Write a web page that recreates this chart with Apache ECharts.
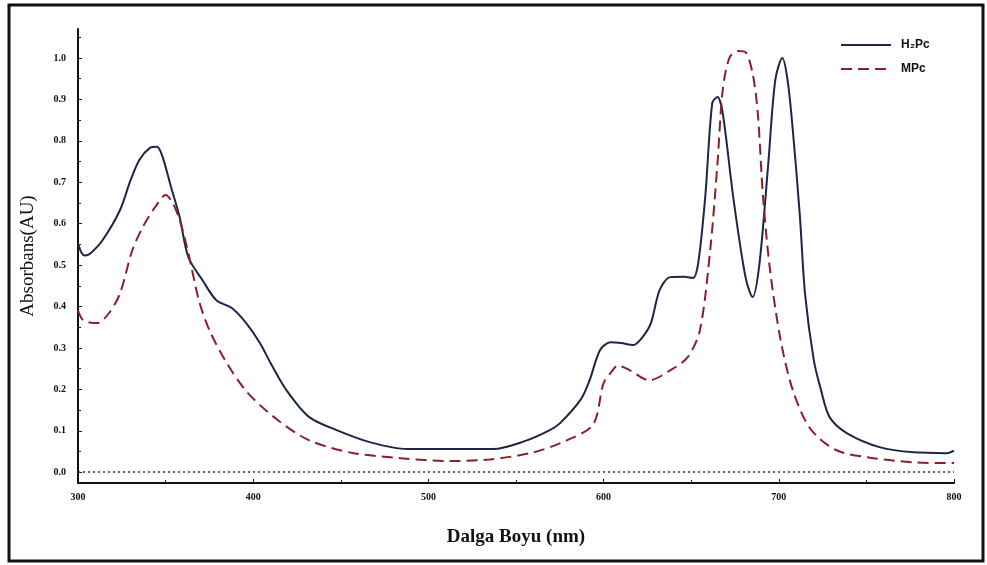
<!DOCTYPE html>
<html>
<head>
<meta charset="utf-8">
<script src="https://cdn.jsdelivr.net/npm/echarts@6/dist/echarts.min.js"></script>
<style>
  html, body { margin: 0; padding: 0; background: #fff; }
  #chart { width: 987px; height: 565px; }
</style>
</head>
<body>
<div id="chart"></div>
<script>
// H2Pc spectrum
const h2pcNm = [300, 302, 304, 307, 314, 324, 330, 335, 341, 345, 348, 353, 358, 363, 371, 379, 388, 396,
  404, 410, 419, 432, 448, 467, 488, 537, 555, 569, 575, 587, 592, 598, 604, 610, 617, 622, 627, 632, 638,
  646, 651, 654, 658, 662, 665, 668, 674, 681, 685, 689, 694, 698, 702, 705, 708, 712, 715, 720, 724, 729,
  739, 758, 777, 796, 800];
const h2pcAbs = [0.553, 0.530, 0.523, 0.528, 0.560, 0.633, 0.705, 0.754, 0.783, 0.786, 0.765, 0.690, 0.616,
  0.519, 0.464, 0.415, 0.396, 0.360, 0.311, 0.263, 0.198, 0.133, 0.101, 0.072, 0.056, 0.056, 0.075, 0.101,
  0.118, 0.176, 0.222, 0.295, 0.314, 0.312, 0.307, 0.325, 0.360, 0.440, 0.471, 0.472, 0.469, 0.505, 0.664,
  0.891, 0.906, 0.867, 0.664, 0.471, 0.423, 0.505, 0.746, 0.947, 1.000, 0.947, 0.826, 0.620, 0.430, 0.270,
  0.200, 0.133, 0.094, 0.060, 0.048, 0.046, 0.052];

// MPc spectrum
const mpcNm = [300, 303, 311, 318, 324, 331, 337, 344, 350, 354, 358, 363, 369, 375, 385, 397, 414, 432,
  456, 484, 512, 535, 560, 579, 594, 600, 605, 608, 615, 626, 638, 648, 655, 661, 665, 668, 672, 677, 681,
  685, 688, 691, 695, 701, 708, 718, 733, 754, 777, 796, 800];
const mpcAbs = [0.391, 0.367, 0.360, 0.386, 0.432, 0.536, 0.592, 0.640, 0.669, 0.650, 0.609, 0.529, 0.415,
  0.343, 0.263, 0.191, 0.126, 0.077, 0.047, 0.034, 0.027, 0.031, 0.048, 0.077, 0.115, 0.215, 0.245, 0.258,
  0.246, 0.222, 0.246, 0.278, 0.343, 0.543, 0.746, 0.923, 1.002, 1.017, 1.014, 0.964, 0.867, 0.664, 0.488,
  0.320, 0.198, 0.105, 0.053, 0.034, 0.024, 0.022, 0.022];

const yMajor = [0, 0.1, 0.2, 0.3, 0.4, 0.5, 0.6, 0.7, 0.8, 0.9, 1.0];
const yMinor = [0.05, 0.15, 0.25, 0.35, 0.45, 0.55, 0.65, 0.75, 0.85, 0.95, 1.05];

const zip = (xs, ys) => xs.map((x, i) => [x, ys[i]]);

const labelFont = { color: '#111', fontSize: 10, fontWeight: 'bold', fontFamily: 'Liberation Serif' };
const axisLine = { onZero: false, lineStyle: { color: '#111', width: 2 } };

const chart = echarts.init(document.getElementById('chart'));
chart.setOption({
  backgroundColor: '#fff',
  animation: false,
  grid: { left: 78, right: 33, top: 29, bottom: 82 },
  legend: {
    orient: 'vertical',
    left: 835,
    top: 34,
    itemWidth: 50,
    itemHeight: 2,
    itemGap: 12,
    textStyle: {
      color: '#111', fontSize: 12, fontWeight: 'bold', fontFamily: 'Liberation Sans',
      padding: [0, 0, 0, 5],
    },
    data: ['H₂Pc', 'MPc'],
  },
  xAxis: {
    type: 'value',
    min: 300,
    max: 800,
    interval: 100,
    name: 'Dalga Boyu (nm)',
    nameLocation: 'middle',
    nameGap: 45,
    nameTextStyle: { color: '#111', fontSize: 19, fontWeight: 'bold', fontFamily: 'Liberation Serif' },
    axisLine,
    axisTick: { inside: true, length: 4, lineStyle: { color: '#111' } },
    minorTick: { show: true, splitNumber: 2, length: 3, lineStyle: { color: '#111' } },
    axisLabel: { ...labelFont, margin: 9 },
    splitLine: { show: false },
  },
  yAxis: [
    {
      type: 'value',
      min: -0.026,
      max: 1.07,
      name: 'Absorbans(AU)',
      nameLocation: 'middle',
      nameGap: 40,
      nameTextStyle: { color: '#111', fontSize: 19, fontFamily: 'Liberation Serif' },
      axisLine,
      axisTick: { inside: true, length: 4, customValues: yMajor, lineStyle: { color: '#111' } },
      axisLabel: { ...labelFont, margin: 12, customValues: yMajor, formatter: (v) => v.toFixed(1) },
      splitLine: { show: false },
    },
    {
      type: 'value',
      min: -0.026,
      max: 1.07,
      position: 'left',
      axisLine: { show: false },
      axisTick: { inside: true, length: 3, customValues: yMinor, lineStyle: { color: '#111' } },
      axisLabel: { show: false, customValues: yMinor },
      splitLine: { show: false },
    },
  ],
  series: [
    {
      name: 'H₂Pc',
      type: 'line',
      smooth: 0.3,
      symbol: 'none',
      data: zip(h2pcNm, h2pcAbs),
      lineStyle: { color: '#1c2748', width: 2 },
      itemStyle: { color: '#1c2748' },
    },
    {
      name: 'MPc',
      type: 'line',
      smooth: 0.3,
      symbol: 'none',
      data: zip(mpcNm, mpcAbs),
      lineStyle: { color: '#8a1f2c', width: 2, type: [11, 6] },
      itemStyle: { color: '#8a1f2c' },
      markLine: {
        silent: true,
        symbol: 'none',
        label: { show: false },
        lineStyle: { color: '#333', width: 1.5, type: [2, 3] },
        data: [{ yAxis: 0 }],
      },
    },
  ],
  graphic: [
    {
      type: 'rect',
      shape: { x: 9, y: 5, width: 974, height: 556 },
      style: { fill: 'none', stroke: '#111', lineWidth: 3 },
      silent: true,
    },
  ],
});
</script>
</body>
</html>
